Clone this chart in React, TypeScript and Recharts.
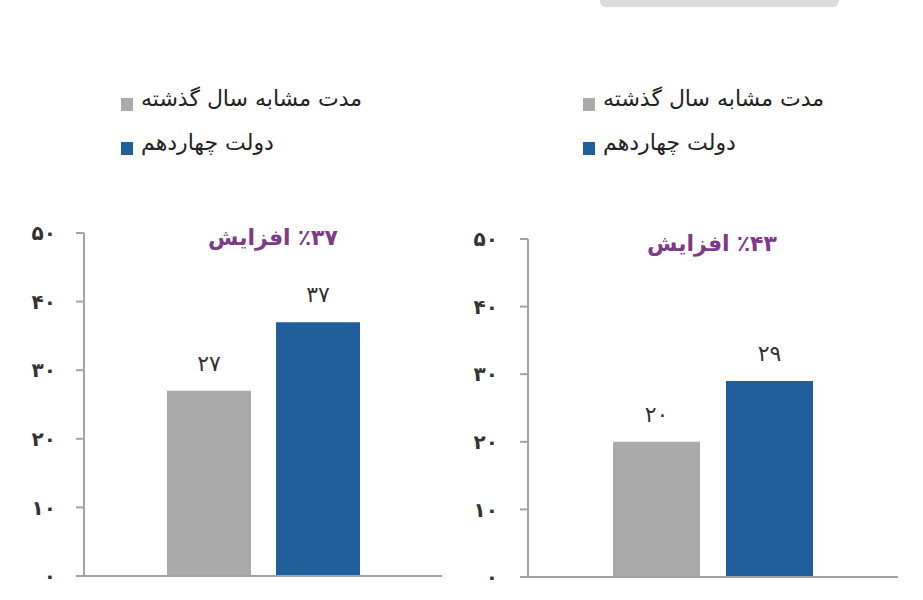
import React from 'react';
import { BarChart, Bar, XAxis, YAxis, LabelList } from 'recharts';

// ---- data ----
const seriesNames = ['مدت مشابه سال گذشته', 'دولت چهاردهم'];
const seriesColors = ['#aaaaaa', '#215f9c'];
const categories = ['مقایسه'];
const leftPrevious = [27];
const leftCurrent = [37];
const rightPrevious = [20];
const rightCurrent = [29];
const increases = [37, 43];
const yTicks = [0, 10, 20, 30, 40, 50];
const increaseWord = 'افزایش';

const FONT = '"DejaVu Sans", "Noto Sans", sans-serif';
const faDigits = '۰۱۲۳۴۵۶۷۸۹';
const toFa = (v: number | string) => String(v).replace(/\d/g, (d) => faDigits[Number(d)]);

const buildData = (prev: number[], curr: number[]) =>
  categories.map((c, i) => ({ name: c, prev: prev[i], curr: curr[i] }));

type PanelProps = {
  left: number;
  width: number;
  marginTop: number;
  marginRight: number;
  yWidth: number;
  xHeight: number;
  barSize: number;
  barGap: number;
  tickMargin: number;
  prev: number[];
  curr: number[];
  increase: number;
  titleX: number;
  titleY: number;
  legendX: number;
};

const Legend2 = ({ x }: { x: number }) => (
  <div style={{ position: 'absolute', left: x, top: 84, fontFamily: FONT }}>
    {seriesNames.map((n, i) => (
      <div
        key={n}
        style={{ display: 'flex', alignItems: 'flex-end', height: 30, marginBottom: i === 0 ? 14 : 0 }}
      >
        <div style={{ width: 12, height: 13, background: seriesColors[i], marginRight: 8, marginBottom: 3 }} />
        <span dir="rtl" style={{ fontSize: 22, color: '#222', lineHeight: '30px', unicodeBidi: 'isolate' }}>
          {n}
        </span>
      </div>
    ))}
  </div>
);

const Panel = (p: PanelProps) => {
  const data = buildData(p.prev, p.curr);
  return (
    <>
      <div style={{ position: 'absolute', left: p.left, top: 0 }}>
        <BarChart
          width={p.width}
          height={600}
          data={data}
          margin={{ top: p.marginTop, right: p.marginRight, bottom: 0, left: 0 }}
          barSize={p.barSize}
          barGap={p.barGap}
        >
          <XAxis
            dataKey="name"
            height={p.xHeight}
            tick={false}
            tickLine={false}
            axisLine={{ stroke: '#a3a3a3', strokeWidth: 2 }}
          />
          <YAxis
            width={p.yWidth}
            domain={[0, 50]}
            ticks={yTicks}
            interval={0}
            tickSize={8}
            tickMargin={p.tickMargin}
            tickFormatter={(v: number) => toFa(v)}
            tick={{ fontFamily: FONT, fontSize: 20, fontWeight: 700, fill: '#333' }}
            tickLine={{ stroke: '#a3a3a3', strokeWidth: 2 }}
            axisLine={{ stroke: '#a3a3a3', strokeWidth: 2 }}
          />
          <Bar dataKey="prev" name={seriesNames[0]} fill={seriesColors[0]} isAnimationActive={false}>
            <LabelList
              dataKey="prev"
              position="top"
              offset={20}
              formatter={(v: number) => toFa(v)}
              style={{ fontFamily: FONT, fontSize: 22, fill: '#333' }}
            />
          </Bar>
          <Bar dataKey="curr" name={seriesNames[1]} fill={seriesColors[1]} isAnimationActive={false}>
            <LabelList
              dataKey="curr"
              position="top"
              offset={20}
              formatter={(v: number) => toFa(v)}
              style={{ fontFamily: FONT, fontSize: 22, fill: '#333' }}
            />
          </Bar>
        </BarChart>
      </div>
      <div
        style={{
          position: 'absolute',
          left: p.titleX - 100,
          top: p.titleY - 16,
          width: 200,
          height: 32,
          display: 'flex',
          justifyContent: 'center',
          alignItems: 'center',
          direction: 'ltr',
          fontFamily: FONT,
          fontWeight: 700,
          fontSize: 22,
          color: '#7d3a86',
          gap: 7,
        }}
      >
        <span dir="rtl" style={{ unicodeBidi: 'isolate' }}>{increaseWord}</span>
        <span dir="ltr" style={{ unicodeBidi: 'isolate' }}>{'٪' + toFa(p.increase)}</span>
      </div>
      <Legend2 x={p.legendX} />
    </>
  );
};

export default function App() {
  return (
    <div
      style={{
        position: 'absolute',
        left: 0,
        top: 0,
        width: 923,
        height: 600,
        background: '#ffffff',
        overflow: 'hidden',
      }}
    >
      <div
        style={{
          position: 'absolute',
          left: 600,
          top: -6,
          width: 239,
          height: 13,
          background: '#dcdcdc',
          borderRadius: 6,
        }}
      />
      <Panel
        left={0}
        width={460}
        marginTop={233}
        marginRight={18}
        yWidth={84}
        xHeight={24}
        barSize={84}
        barGap={25}
        tickMargin={20}
        prev={leftPrevious}
        curr={leftCurrent}
        increase={increases[0]}
        titleX={273}
        titleY={237}
        legendX={121}
      />
      <Panel
        left={460}
        width={463}
        marginTop={239}
        marginRight={25}
        yWidth={68}
        xHeight={23}
        barSize={87}
        barGap={26}
        tickMargin={22}
        prev={rightPrevious}
        curr={rightCurrent}
        increase={increases[1]}
        titleX={712}
        titleY={243}
        legendX={583}
      />
    </div>
  );
}
